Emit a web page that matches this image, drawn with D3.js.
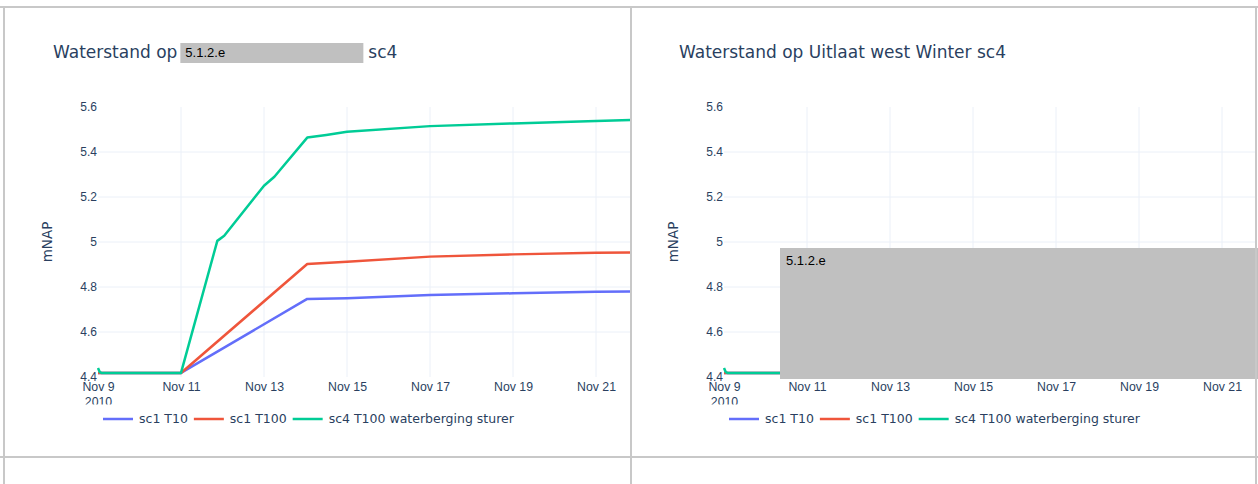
<!DOCTYPE html>
<html>
<head>
<meta charset="utf-8">
<script src="https://cdn.jsdelivr.net/npm/d3@7"></script>
<style>
body { margin: 0; background: #fff; }
svg { display: block; font-family: "DejaVu Sans", verdana, arial, sans-serif; }
</style>
</head>
<body>
<svg width="1258" height="484"></svg>
<script>
var parseTime = d3.utcParse("%Y-%m-%d %H:%M");

// series names + colours (plotly defaults)
var seriesNames = ["sc1 T10", "sc1 T100", "sc4 T100 waterberging sturer"];
var seriesColors = ["#636efa", "#ef553b", "#00cc96"];

// left panel
var t10Times = ["2010-11-09 00:00", "2010-11-11 00:00", "2010-11-14 01:00", "2010-11-15 00:00", "2010-11-17 00:00", "2010-11-19 00:00", "2010-11-21 00:00", "2010-11-21 20:00"];
var t10Values = [4.418, 4.418, 4.747, 4.750, 4.764, 4.772, 4.779, 4.780];

var t100Times = ["2010-11-09 00:00", "2010-11-11 00:00", "2010-11-14 01:00", "2010-11-15 00:00", "2010-11-17 00:00", "2010-11-19 00:00", "2010-11-21 00:00", "2010-11-21 20:00"];
var t100Values = [4.418, 4.418, 4.902, 4.912, 4.935, 4.945, 4.952, 4.953];

var sc4Times = ["2010-11-09 00:00", "2010-11-09 01:00", "2010-11-09 02:00", "2010-11-11 00:00", "2010-11-11 21:00", "2010-11-12 01:00", "2010-11-13 00:00", "2010-11-13 06:00", "2010-11-14 01:00", "2010-11-14 12:00", "2010-11-15 00:00", "2010-11-17 00:00", "2010-11-19 00:00", "2010-11-21 00:00", "2010-11-21 20:00"];
var sc4Values = [4.44, 4.422, 4.418, 4.418, 5.005, 5.028, 5.250, 5.290, 5.464, 5.476, 5.490, 5.515, 5.527, 5.538, 5.542];

// right panel - only the start is visible, the rest is blacked out
var westTimes = ["2010-11-09 00:00", "2010-11-09 01:00", "2010-11-09 02:00", "2010-11-11 00:00"];
var westT10Values = [4.418, 4.418, 4.418, 4.418];
var westT100Values = [4.418, 4.418, 4.418, 4.418];
var westSc4Values = [4.44, 4.422, 4.418, 4.418];

var xDomain = ["2010-11-09 00:00", "2010-11-21 20:00"];
var xTicks = ["2010-11-09 00:00", "2010-11-11 00:00", "2010-11-13 00:00", "2010-11-15 00:00", "2010-11-17 00:00", "2010-11-19 00:00", "2010-11-21 00:00"];
var yTicks = [4.4, 4.6, 4.8, 5, 5.2, 5.4, 5.6];
var yTickLabels = ["4.4", "4.6", "4.8", "5", "5.2", "5.4", "5.6"];

var svg = d3.select("svg");
var textColor = "#2a3f5f";
var gridColor = "#ebf0f8";
var redactFont = "'Liberation Sans', Arial, sans-serif";

var x = d3.scaleUtc().domain(xDomain.map(parseTime)).range([98, 630.6]);
var y = d3.scaleLinear().domain([4.4, 5.6]).range([377, 107]);

function toPoints(times, values) {
  return times.map(function(t, i) { return { t: parseTime(t), v: values[i] } });
}

function drawPanel(offset, id, titleParts, series, bigRedact) {
  var g = svg.append("g").attr("transform", "translate(" + offset + ",0)");

  var defs = g.append("defs");
  defs.append("clipPath").attr("id", "plot" + id)
    .append("rect").attr("x", 95).attr("y", 104).attr("width", 535.5).attr("height", 276);
  defs.append("clipPath").attr("id", "ticks" + id)
    .append("rect").attr("x", 0).attr("y", 378).attr("width", 632).attr("height", 26.5);

  // title
  var title = g.append("text")
    .attr("x", 53).attr("y", 58)
    .style("font-size", "17px").style("fill", textColor)
    .text(titleParts[0]);
  if (titleParts.length > 1) {
    var bx = 53 + title.node().getComputedTextLength() + 3;
    g.append("rect").attr("x", bx).attr("y", 43).attr("width", 183).attr("height", 20).style("fill", "#c0c0c0");
    g.append("text").attr("x", bx + 5).attr("y", 57)
      .style("font-family", redactFont).style("font-size", "13px").style("fill", "#000")
      .text("5.1.2.e");
    g.append("text").attr("x", bx + 188).attr("y", 58)
      .style("font-size", "17px").style("fill", textColor)
      .text(titleParts[1]);
  }

  // grid
  g.selectAll(".vgrid").data(xTicks.slice(1)).enter().append("line")
    .attr("x1", function(d) { return x(parseTime(d)) })
    .attr("x2", function(d) { return x(parseTime(d)) })
    .attr("y1", 107).attr("y2", 377)
    .style("stroke", gridColor).style("stroke-width", 1);
  g.selectAll(".hgrid").data(yTicks.slice(1, -1)).enter().append("line")
    .attr("x1", 98).attr("x2", 630.6)
    .attr("y1", function(d) { return y(d) })
    .attr("y2", function(d) { return y(d) })
    .style("stroke", gridColor).style("stroke-width", 1);

  // axes
  var xAxis = d3.axisBottom(x)
    .tickValues(xTicks.map(parseTime))
    .tickSize(0).tickPadding(5)
    .tickFormat(d3.utcFormat("%b %-d"));
  var xg = g.append("g").attr("clip-path", "url(#ticks" + id + ")")
    .append("g").attr("transform", "translate(0,377)").call(xAxis);
  xg.select(".domain").remove();
  xg.selectAll("text").style("font-family", "inherit").style("font-size", "12.3px").style("fill", textColor);
  xg.select(".tick text").append("tspan").attr("x", 0).attr("dy", "1.22em").text("2010");

  var yAxis = d3.axisLeft(y).tickValues(yTicks).tickSize(0).tickPadding(1)
    .tickFormat(function(d, i) { return yTickLabels[i] });
  var yg = g.append("g").attr("transform", "translate(98,0)").call(yAxis);
  yg.select(".domain").remove();
  yg.selectAll("text").style("font-family", "inherit").style("font-size", "12px").style("fill", textColor);

  g.append("text")
    .attr("transform", "translate(52,242) rotate(-90)")
    .attr("text-anchor", "middle")
    .style("font-size", "13.5px").style("fill", textColor)
    .text("mNAP");

  // lines
  var line = d3.line().x(function(d) { return x(d.t) }).y(function(d) { return y(d.v) });
  g.append("g").attr("clip-path", "url(#plot" + id + ")")
    .selectAll("path").data(series).enter().append("path")
    .attr("d", function(d) { return line(d) })
    .style("fill", "none")
    .style("stroke", function(d, i) { return seriesColors[i] })
    .style("stroke-width", 2.5)
    .style("stroke-linejoin", "round");

  // legend
  var lx = 103;
  seriesNames.forEach(function(name, i) {
    g.append("line").attr("x1", lx).attr("x2", lx + 30).attr("y1", 419).attr("y2", 419)
      .style("stroke", seriesColors[i]).style("stroke-width", 2.5);
    var t = g.append("text").attr("x", lx + 36).attr("y", 423)
      .style("font-size", "12.5px").style("fill", textColor).text(name);
    lx = lx + 36 + t.node().getComputedTextLength() + 6;
  });

  if (bigRedact) {
    g.append("rect").attr("x", 154).attr("y", 248).attr("width", 478).attr("height", 131).style("fill", "#c0c0c0");
    g.append("text").attr("x", 160).attr("y", 265)
      .style("font-family", redactFont).style("font-size", "13px").style("fill", "#000")
      .text("5.1.2.e");
  }
}

drawPanel(0, "a", ["Waterstand op", "sc4"],
  [toPoints(t10Times, t10Values), toPoints(t100Times, t100Values), toPoints(sc4Times, sc4Values)], false);
drawPanel(626, "b", ["Waterstand op Uitlaat west Winter sc4"],
  [toPoints(westTimes, westT10Values), toPoints(westTimes, westT100Values), toPoints(westTimes, westSc4Values)], true);

// panel frame
var frameColor = "#c8c8c8";
svg.append("line").attr("x1", 0).attr("x2", 1258).attr("y1", 7).attr("y2", 7).style("stroke", frameColor).style("stroke-width", 2);
svg.append("line").attr("x1", 0).attr("x2", 1258).attr("y1", 457).attr("y2", 457).style("stroke", frameColor).style("stroke-width", 2);
[4, 631, 1256].forEach(function(px) {
  svg.append("line").attr("x1", px).attr("x2", px).attr("y1", 7).attr("y2", 484).style("stroke", frameColor).style("stroke-width", 2);
});
</script>
</body>
</html>
